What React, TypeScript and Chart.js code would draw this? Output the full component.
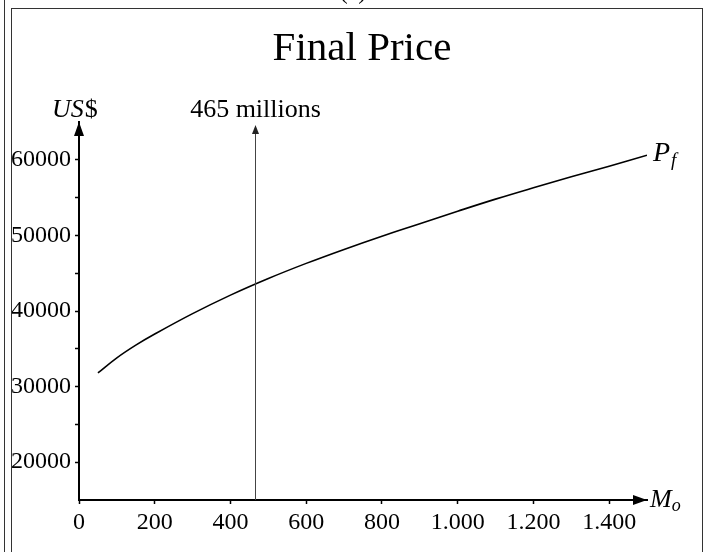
import React, { useEffect, useRef } from 'react';
import { Chart, registerables } from 'chart.js';

Chart.register(...registerables);

// ---- data ----
const investmentM = [50, 100, 150, 200, 300, 400, 500, 600, 700, 800, 900, 1000, 1100, 1200, 1300, 1400, 1500];
const finalPrice = [31800, 33800, 35480, 36950, 39650, 42100, 44300, 46300, 48150, 49900, 51550, 53200, 54800, 56300, 57750, 59150, 60600];
const xTickValues = [0, 200, 400, 600, 800, 1000, 1200, 1400];
const yTickValues = [20000, 25000, 30000, 35000, 40000, 45000, 50000, 55000, 60000];
const yLabelValues = [20000, 30000, 40000, 50000, 60000];
const xMin = 0;
const xMax = 1500;
const yMin = 15000;
const yMax = 65000;
const markerM = 465;
const markerTop = 64600;
const markerLabel = '465 millions';
const titleText = 'Final Price';
const panelTag = '(c)';

const SERIF = '"Liberation Serif", "Times New Roman", serif';

const fmtThousands = (v: number) => String(v).replace(/\B(?=(\d{3})+(?!\d))/g, '.');

const decorPlugin = {
  id: 'decor',
  afterDraw(chart: any) {
    const ctx = chart.ctx as CanvasRenderingContext2D;
    const ca = chart.chartArea;
    const xs = chart.scales.x;
    const ys = chart.scales.y;
    ctx.save();

    // frames
    ctx.strokeStyle = '#333';
    ctx.lineWidth = 1;
    ctx.beginPath();
    ctx.moveTo(4.5, 0);
    ctx.lineTo(4.5, 552);
    ctx.moveTo(11.5, 8);
    ctx.lineTo(11.5, 552);
    ctx.moveTo(11, 8.5);
    ctx.lineTo(703, 8.5);
    ctx.moveTo(702.5, 8);
    ctx.lineTo(702.5, 552);
    ctx.stroke();

    // axis arrows
    ctx.fillStyle = '#000';
    ctx.beginPath();
    ctx.moveTo(ca.right, ca.bottom);
    ctx.lineTo(ca.right - 14, ca.bottom - 5);
    ctx.lineTo(ca.right - 14, ca.bottom + 5);
    ctx.closePath();
    ctx.fill();
    ctx.beginPath();
    ctx.moveTo(ca.left, ca.top);
    ctx.lineTo(ca.left - 5, ca.top + 14);
    ctx.lineTo(ca.left + 5, ca.top + 14);
    ctx.closePath();
    ctx.fill();

    // marker line with arrow
    const mx = Math.round(xs.getPixelForValue(markerM)) + 0.5;
    const mTop = ys.getPixelForValue(markerTop);
    ctx.strokeStyle = '#444';
    ctx.lineWidth = 1;
    ctx.beginPath();
    ctx.moveTo(mx, ca.bottom);
    ctx.lineTo(mx, mTop + 6);
    ctx.stroke();
    ctx.fillStyle = '#222';
    ctx.beginPath();
    ctx.moveTo(mx, mTop);
    ctx.lineTo(mx - 3.5, mTop + 9);
    ctx.lineTo(mx + 3.5, mTop + 9);
    ctx.closePath();
    ctx.fill();

    // texts
    ctx.fillStyle = '#000';
    ctx.textBaseline = 'alphabetic';
    ctx.textAlign = 'center';
    ctx.font = `24px ${SERIF}`;
    ctx.fillText(panelTag, 353, -1);

    ctx.font = `41px ${SERIF}`;
    ctx.fillText(titleText, 362, 60);

    ctx.font = `26px ${SERIF}`;
    ctx.fillText(markerLabel, mx, 117);

    // US$
    ctx.textAlign = 'left';
    ctx.font = `italic 26px ${SERIF}`;
    const usX = 52;
    ctx.fillText('US', usX, 117);
    const wUS = ctx.measureText('US').width;
    ctx.font = `26px ${SERIF}`;
    ctx.fillText('$', usX + wUS + 1, 117);

    // P_f
    const lastPx = xs.getPixelForValue(investmentM[investmentM.length - 1]);
    const lastPy = ys.getPixelForValue(finalPrice[finalPrice.length - 1]);
    ctx.font = `italic 28px ${SERIF}`;
    const pX = lastPx + 6;
    ctx.fillText('P', pX, lastPy + 6);
    const wP = ctx.measureText('P').width;
    ctx.font = `italic 19px ${SERIF}`;
    ctx.fillText('f', pX + wP + 1, lastPy + 11);

    // M_o
    ctx.font = `italic 26px ${SERIF}`;
    const mX = ca.right + 3;
    ctx.fillText('M', mX, ca.bottom + 7);
    const wM = ctx.measureText('M').width;
    ctx.font = `italic 18px ${SERIF}`;
    ctx.fillText('o', mX + wM, ca.bottom + 11);

    ctx.restore();
  },
};

export default function App() {
  const canvasRef = useRef<HTMLCanvasElement | null>(null);

  useEffect(() => {
    document.body.style.margin = '0';
    const canvas = canvasRef.current;
    if (!canvas) return;
    Chart.defaults.font.family = SERIF;
    Chart.defaults.color = '#000';

    const chart = new Chart(canvas, {
      type: 'line',
      data: {
        datasets: [
          {
            label: 'P_f',
            data: investmentM.map((m, i) => ({ x: m, y: finalPrice[i] })),
            borderColor: '#000',
            borderWidth: 1.6,
            pointRadius: 0,
            fill: false,
            tension: 0.4,
          },
        ],
      },
      options: {
        responsive: false,
        maintainAspectRatio: false,
        animation: false,
        devicePixelRatio: 1,
        layout: { padding: { left: 11, right: 63, top: 122, bottom: 12 } },
        plugins: {
          legend: { display: false },
          tooltip: { enabled: false },
          title: { display: false },
        },
        scales: {
          x: {
            type: 'linear',
            min: xMin,
            max: xMax,
            afterBuildTicks: (scale: any) => {
              scale.ticks = xTickValues.map((v) => ({ value: v }));
            },
            afterFit: (scale: any) => {
              scale.height = 40;
            },
            grid: {
              drawOnChartArea: false,
              drawTicks: true,
              tickLength: 4,
              tickWidth: 1.5,
              tickColor: '#000',
            },
            border: { display: true, color: '#000', width: 2 },
            ticks: {
              padding: 4,
              maxRotation: 0,
              autoSkip: false,
              font: { size: 24, family: SERIF },
              color: '#000',
              callback: (v: any) => fmtThousands(Number(v)),
            },
          },
          y: {
            type: 'linear',
            min: yMin,
            max: yMax,
            afterBuildTicks: (scale: any) => {
              scale.ticks = yTickValues.map((v) => ({ value: v }));
            },
            afterFit: (scale: any) => {
              scale.width = 68;
            },
            grid: {
              drawOnChartArea: false,
              drawTicks: true,
              tickLength: 4,
              tickWidth: 1.5,
              tickColor: '#000',
            },
            border: { display: true, color: '#000', width: 2 },
            ticks: {
              padding: 4,
              autoSkip: false,
              font: { size: 24, family: SERIF },
              color: '#000',
              callback: (v: any) => (yLabelValues.includes(Number(v)) ? String(v) : ''),
            },
          },
        },
      },
      plugins: [decorPlugin],
    } as any);

    return () => chart.destroy();
  }, []);

  return (
    <div style={{ width: 710, height: 552, background: '#fff' }}>
      <canvas ref={canvasRef} width={710} height={552} style={{ display: 'block' }} />
    </div>
  );
}
